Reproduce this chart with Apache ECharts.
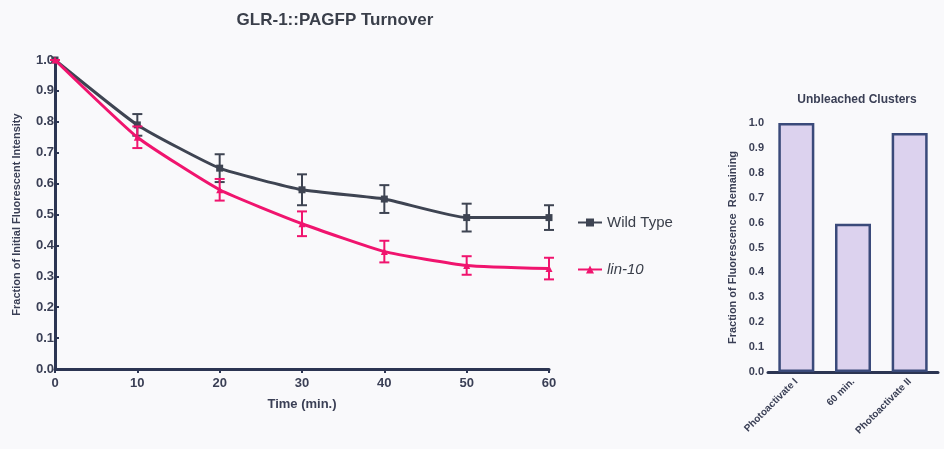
<!DOCTYPE html>
<html>
<head>
<meta charset="utf-8">
<script src="https://cdn.jsdelivr.net/npm/echarts@6/dist/echarts.min.js"></script>
<style>
  html, body { margin: 0; padding: 0; background: #f9f9fb; }
  #main { width: 944px; height: 449px; }
</style>
</head>
<body>
<div id="main"></div>
<script>
// turnover curve
var times = [0, 10, 20, 30, 40, 50, 60];
var wildType = [1.0, 0.79, 0.65, 0.58, 0.55, 0.49, 0.49];
var wildTypeErr = [0, 0.035, 0.045, 0.05, 0.045, 0.045, 0.04];
var lin10 = [1.0, 0.75, 0.58, 0.47, 0.38, 0.335, 0.325];
var lin10Err = [0, 0.035, 0.035, 0.04, 0.035, 0.03, 0.035];

// unbleached clusters
var clusterCats = ['Photoactivate I', '60 min.', 'Photoactivate II'];
var clusterVals = [1.0, 0.595, 0.96];

var axisColor = '#2c3552';
var labelColor = '#3a3f55';
var wtColor = '#3e4452';
var linColor = '#f0146e';

function pairs(xs, ys) {
    return xs.map(function (x, i) { return [x, ys[i]]; });
}
function errData(xs, ys, es) {
    return xs.map(function (x, i) { return [x, ys[i] + es[i], ys[i] - es[i]]; });
}
function errBar(color) {
    return function (params, api) {
        var x = api.value(0);
        var hi = api.coord([x, api.value(1)]);
        var lo = api.coord([x, api.value(2)]);
        var w = 5;
        var st = { stroke: color, lineWidth: 2 };
        return {
            type: 'group',
            children: [
                { type: 'line', shape: { x1: hi[0], y1: hi[1], x2: lo[0], y2: lo[1] }, style: st },
                { type: 'line', shape: { x1: hi[0] - w, y1: hi[1], x2: hi[0] + w, y2: hi[1] }, style: st },
                { type: 'line', shape: { x1: lo[0] - w, y1: lo[1], x2: lo[0] + w, y2: lo[1] }, style: st }
            ]
        };
    };
}

var myChart = echarts.init(document.getElementById('main'));
var option = {
    backgroundColor: '#f9f9fb',
    animation: false,
    textStyle: { fontFamily: 'Liberation Sans, Arial, sans-serif' },
    title: [
        {
            text: 'GLR-1::PAGFP Turnover',
            left: 330, top: 7, textAlign: 'center',
            textStyle: { fontSize: 17, fontWeight: 'bold', color: '#3a3f4a' }
        },
        {
            text: 'Unbleached Clusters',
            left: 852, top: 89, textAlign: 'center',
            textStyle: { fontSize: 12, fontWeight: 'bold', color: '#3a3f55' }
        }
    ],
    legend: {
        orient: 'vertical',
        left: 572, top: 210,
        itemGap: 32,
        itemWidth: 24, itemHeight: 10,
        data: ['Wild Type', 'lin-10'],
        formatter: function (name) {
            return name === 'lin-10' ? '{i|' + name + '}' : name;
        },
        textStyle: {
            fontSize: 15, color: '#3a3f4a',
            rich: { i: { fontStyle: 'italic', fontSize: 15, color: '#3a3f4a' } }
        }
    },
    grid: [
        { left: 55, right: 395, top: 60, bottom: 80 },
        { left: 768, right: 6, top: 123, bottom: 77 }
    ],
    xAxis: [
        {
            type: 'value', gridIndex: 0,
            min: 0, max: 60, interval: 10,
            name: 'Time (min.)', nameLocation: 'middle', nameGap: 29,
            nameTextStyle: { fontSize: 13, fontWeight: 'bold', color: labelColor },
            axisLine: { lineStyle: { color: axisColor, width: 3 } },
            axisTick: { lineStyle: { color: axisColor, width: 2 }, length: 4 },
            axisLabel: { fontSize: 13, fontWeight: 'bold', color: labelColor, margin: 8 },
            splitLine: { show: false }
        },
        {
            type: 'category', gridIndex: 1,
            data: clusterCats,
            axisLine: { lineStyle: { color: axisColor, width: 3 } },
            axisTick: { alignWithLabel: true, lineStyle: { color: axisColor, width: 2 }, length: 4 },
            axisLabel: { fontSize: 10, fontWeight: 'bold', color: labelColor, rotate: 45, interval: 0, margin: 8 }
        }
    ],
    yAxis: [
        {
            type: 'value', gridIndex: 0,
            min: 0, max: 1, interval: 0.1,
            name: 'Fraction of Initial Fluorescent Intensity',
            nameLocation: 'middle', nameGap: 33,
            nameTextStyle: { fontSize: 11, fontWeight: 'bold', color: labelColor },
            axisLine: { lineStyle: { color: axisColor, width: 3 } },
            axisTick: { inside: true, lineStyle: { color: axisColor, width: 2 }, length: 4 },
            axisLabel: {
                fontSize: 13, fontWeight: 'bold', color: labelColor, margin: 1,
                formatter: function (v) { return v.toFixed(1); }
            },
            splitLine: { show: false }
        },
        {
            type: 'value', gridIndex: 1,
            min: 0, max: 1, interval: 0.1,
            name: 'Fraction of Fluorescence  Remaining',
            nameLocation: 'middle', nameGap: 30,
            nameTextStyle: { fontSize: 11, fontWeight: 'bold', color: labelColor },
            axisLine: { lineStyle: { color: axisColor, width: 3 } },
            axisTick: { lineStyle: { color: axisColor, width: 2 }, length: 3 },
            axisLabel: {
                fontSize: 11, fontWeight: 'bold', color: labelColor, margin: 4,
                formatter: function (v) { return v.toFixed(1); }
            },
            splitLine: { show: false }
        }
    ],
    series: [
        {
            name: 'Wild Type', type: 'line', xAxisIndex: 0, yAxisIndex: 0,
            data: pairs(times, wildType),
            smooth: 0.15,
            symbol: 'rect', symbolSize: 7,
            lineStyle: { color: wtColor, width: 3 },
            itemStyle: { color: wtColor },
            z: 3
        },
        {
            name: 'lin-10', type: 'line', xAxisIndex: 0, yAxisIndex: 0,
            data: pairs(times, lin10),
            smooth: 0.15,
            symbol: 'triangle', symbolSize: 7,
            lineStyle: { color: linColor, width: 3 },
            itemStyle: { color: linColor },
            z: 4
        },
        {
            type: 'custom', xAxisIndex: 0, yAxisIndex: 0,
            data: errData(times, wildType, wildTypeErr),
            renderItem: errBar(wtColor), z: 3
        },
        {
            type: 'custom', xAxisIndex: 0, yAxisIndex: 0,
            data: errData(times, lin10, lin10Err),
            renderItem: errBar(linColor), z: 4
        },
        {
            type: 'bar', xAxisIndex: 1, yAxisIndex: 1,
            data: clusterVals,
            barWidth: 36,
            itemStyle: { color: '#dcd2ee', borderColor: '#3a4a7a', borderWidth: 2.5 }
        }
    ]
};
myChart.setOption(option);
</script>
</body>
</html>
